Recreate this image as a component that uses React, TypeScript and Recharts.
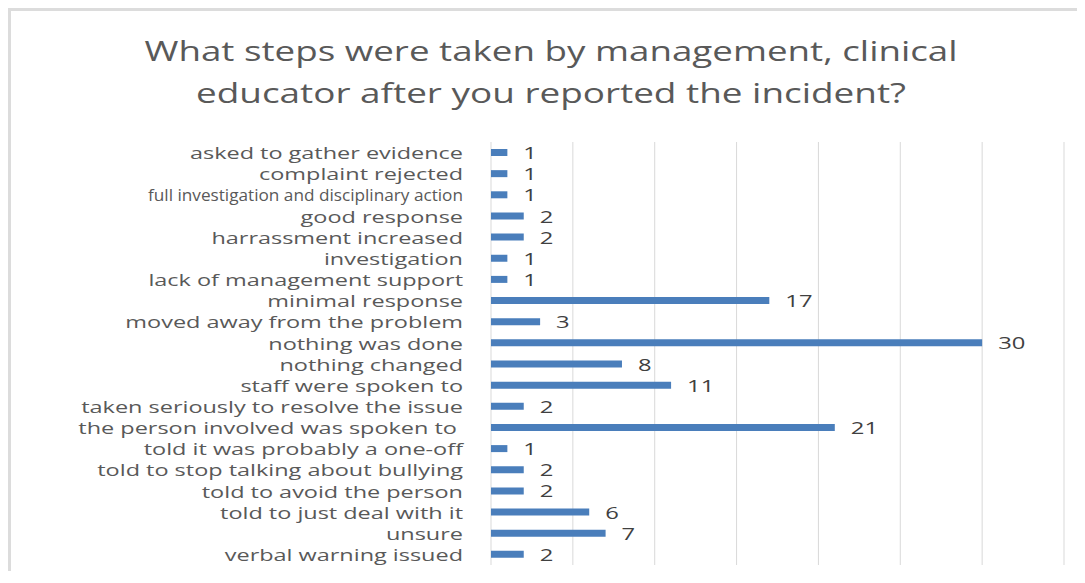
import React from "react";
import { BarChart, Bar, XAxis, YAxis, CartesianGrid, LabelList } from "recharts";

const categories = [
  "asked to gather evidence",
  "complaint rejected",
  "full investigation and disciplinary action",
  "good response",
  "harrassment increased",
  "investigation",
  "lack of management support",
  "minimal response",
  "moved away from the problem",
  "nothing was done",
  "nothing changed",
  "staff were spoken to",
  "taken seriously to resolve the issue",
  "the person involved was spoken to ",
  "told it was probably a one-off",
  "told to stop talking about bullying",
  "told to avoid the person",
  "told to just deal with it",
  "unsure",
  "verbal warning issued",
];
const counts = [1, 1, 1, 2, 2, 1, 1, 17, 3, 30, 8, 11, 2, 21, 1, 2, 2, 6, 7, 2];
const xTicks = [0, 5, 10, 15, 20, 25, 30, 35];
const titleLines = [
  "What steps were taken by management, clinical",
  "educator after you reported the incident?",
];

const data = categories.map((c, i) => ({ name: c, value: counts[i] }));

const FONT = "'Open Sans', sans-serif";
const SX = 1.38;
// the reference squeezes this one long label
const SQUEEZED_LABEL = "full investigation and disciplinary action";
const SQUEEZED_WIDTH = 315;

const YTick = (props: any) => {
  const { x, y, payload } = props;
  const raw = String(payload.value);
  const label = raw.replace(/ $/, "\u00a0");
  if (raw === SQUEEZED_LABEL) {
    return (
      <text
        x={x - SQUEEZED_WIDTH}
        y={y}
        textAnchor="start"
        dominantBaseline="central"
        fontFamily={FONT}
        fontSize={17}
        fill="#595959"
        textLength={SQUEEZED_WIDTH}
        lengthAdjust="spacingAndGlyphs"
      >
        {label}
      </text>
    );
  }
  return (
    <text
      transform={`translate(${x},${y}) scale(${SX},1)`}
      x={0}
      y={0}
      textAnchor="end"
      dominantBaseline="central"
      fontFamily={FONT}
      fontSize={17}
      fill="#595959"
    >
      {label}
    </text>
  );
};

const EmptyTick = () => <g />;

const ValueLabel = (props: any) => {
  const { x, y, width, height, value } = props;
  const tx = Number(x) + Number(width) + 16;
  const ty = Number(y) + Number(height) / 2;
  return (
    <text
      transform={`translate(${tx},${ty}) scale(1.4,1)`}
      x={0}
      y={0}
      textAnchor="start"
      dominantBaseline="central"
      fontFamily={FONT}
      fontSize={17}
      fill="#404040"
    >
      {value}
    </text>
  );
};

export default function App() {
  return (
    <div
      style={{
        position: "relative",
        width: 1074,
        height: 572,
        marginBottom: -12,
        borderTop: "3px solid #dcdcdc",
        borderLeft: "3px solid #dcdcdc",
        background: "#fff",
      }}
    >
      <svg
        width={1074}
        height={130}
        style={{ position: "absolute", left: 0, top: 0 }}
      >
        <text
          x={540}
          y={50}
          textAnchor="middle"
          fontFamily={FONT}
          fontSize={27}
          fill="#595959"
          textLength={813}
          lengthAdjust="spacingAndGlyphs"
        >
          {titleLines[0]}
        </text>
        <text
          x={540}
          y={92}
          textAnchor="middle"
          fontFamily={FONT}
          fontSize={27}
          fill="#595959"
          textLength={710}
          lengthAdjust="spacingAndGlyphs"
        >
          {titleLines[1]}
        </text>
      </svg>
      <div style={{ position: "absolute", left: 0, top: 0 }}>
        <BarChart
          width={1074}
          height={572}
          data={data}
          layout="vertical"
          margin={{ top: 131, right: 21, bottom: 17, left: 0 }}
        >
          <CartesianGrid horizontal={false} vertical={true} stroke="#d9d9d9" />
          <XAxis
            type="number"
            domain={[0, 35]}
            ticks={xTicks}
            axisLine={false}
            tickLine={false}
            tick={<EmptyTick />}
            height={1}
          />
          <YAxis
            type="category"
            dataKey="name"
            width={480}
            axisLine={false}
            tickLine={false}
            tickSize={0}
            tickMargin={28}
            tick={<YTick />}
            interval={0}
          />
          <Bar dataKey="value" fill="#4a7ebb" barSize={7} isAnimationActive={false}>
            <LabelList dataKey="value" content={<ValueLabel />} />
          </Bar>
        </BarChart>
      </div>
    </div>
  );
}
